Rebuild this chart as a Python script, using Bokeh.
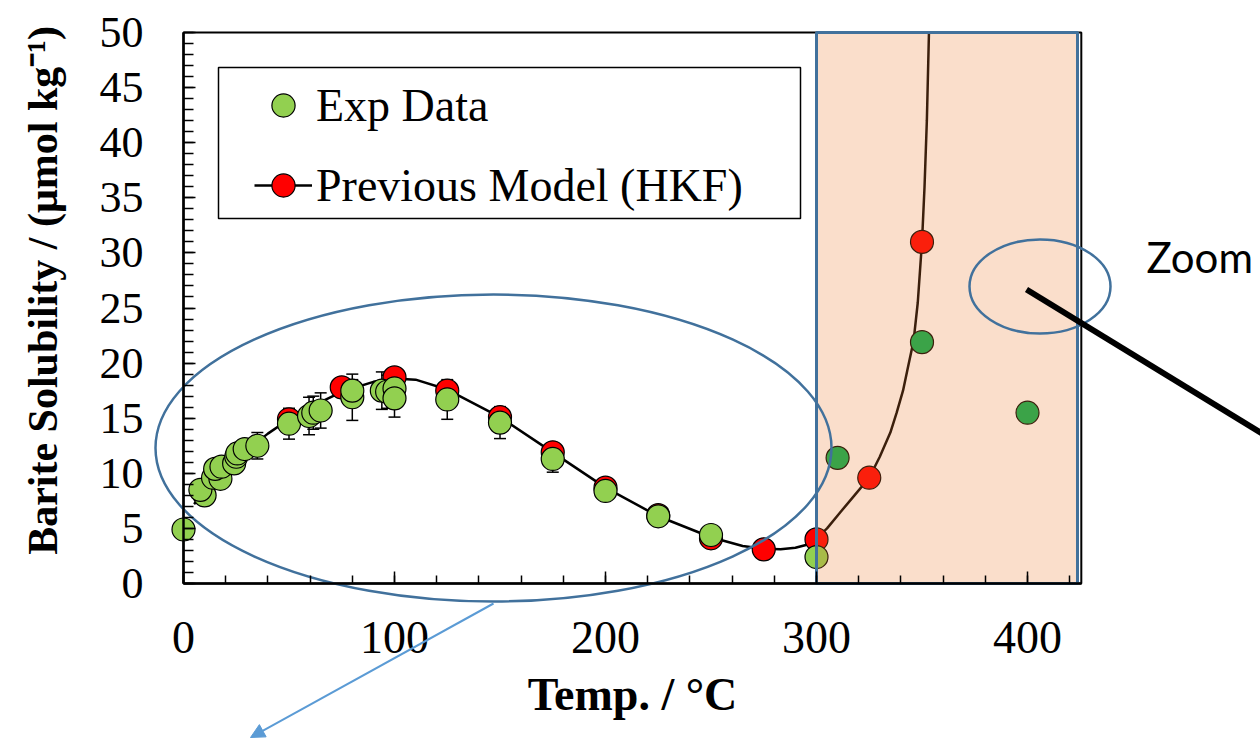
from bokeh.plotting import figure
from bokeh.models import (Range1d, LinearAxis, SingleIntervalTicker, FixedTicker, Whisker,
                          TeeHead, ColumnDataSource, Legend, LegendItem, Label, Arrow,
                          NormalHead, BoxAnnotation, Grid)
from bokeh.embed import file_html
from bokeh.resources import INLINE

# ---------------- data ----------------
exp_temp = [0, 10, 8, 14, 17.5, 15, 18, 24, 25, 25.5, 29, 35, 50, 59.5, 61.5, 65,
            80, 80, 94, 96.5, 100, 100, 125, 150, 175, 200, 225, 250, 300]
exp_sol = [4.9, 8.0, 8.5, 9.6, 9.5, 10.4, 10.6, 10.9, 11.5, 11.8, 12.2, 12.5, 14.5, 15.2, 15.5, 15.7,
           16.9, 17.5, 17.5, 17.4, 17.7, 16.8, 16.7, 14.6, 11.3, 8.4, 6.1, 4.4, 2.4]
exp_err = [0.0, 0.3, 0.3, 0.4, 0.4, 0.4, 0.4, 0.8, 0.8, 0.8, 0.8, 1.2, 1.4, 1.7, 1.5, 1.6,
           2.1, 1.0, 1.7, 1.5, 1.5, 1.7, 1.8, 1.45, 1.2, 0.4, 0.4, 0.4, 0.3]

high_temp = [310, 350, 400]
high_sol = [11.4, 21.9, 15.5]

model_temp = [50, 75, 100, 125, 150, 175, 200, 225, 250, 275, 300, 325, 350]
model_sol = [14.9, 17.8, 18.7, 17.5, 15.1, 11.9, 8.7, 6.2, 4.1, 3.1, 4.0, 9.6, 31.0]

curve_temp = [5, 10, 15, 20, 25, 30, 40, 50, 60, 75, 90, 100, 110, 125, 150, 175, 200, 225,
              250, 265, 275, 283, 290, 295, 300, 305, 311, 318, 325, 330, 335, 338, 341, 343,
              346, 348, 350, 351.2, 352.3, 353.3]
curve_sol = [7.2, 8.3, 9.4, 10.4, 11.3, 12.1, 13.6, 14.9, 16.0, 17.4, 18.3, 18.6, 18.5, 17.6,
             15.1, 11.9, 8.7, 6.1, 4.2, 3.4, 3.15, 3.1, 3.25, 3.5, 4.1, 5.0, 6.4, 8.0, 9.6,
             11.5, 13.7, 15.5, 17.5, 19.3, 22.0, 25.5, 31.0, 36.0, 42.0, 50.0]

X_MAX = 425.5
Y_MAX = 50
SHADE_LEFT, SHADE_RIGHT = 300, 423.7

# ---------------- pixel <-> data helpers for decorations ----------------
W, H = 1260, 740
X0, XS = 183, 2.11
Y0, YS = 583, 11.02


def dx(px):
    return (px - X0) / XS


def dy(py):
    return (Y0 - py) / YS


SERIF = "Liberation Serif"
BLUE = "#41719C"

p = figure(width=W, height=H, x_range=Range1d(dx(0), dx(W)), y_range=Range1d(dy(H), dy(0)),
           x_axis_location=None, y_axis_location=None, toolbar_location=None,
           output_backend="svg", min_border=0, outline_line_color=None,
           background_fill_color="white", border_fill_color="white")
for r in list(p.center):
    if isinstance(r, Grid):
        r.visible = False

# axes fixed at the data origin
xaxis = LinearAxis(fixed_location=0, bounds=(0, X_MAX),
                   ticker=SingleIntervalTicker(interval=100, num_minor_ticks=5),
                   axis_label="Temp. / °C",
                   axis_label_text_font=SERIF, axis_label_text_font_style="bold",
                   axis_label_text_font_size="46px", axis_label_standoff=13,
                   axis_label_text_color="black",
                   major_label_text_font=SERIF, major_label_text_font_size="46px",
                   major_label_text_color="black", major_label_standoff=38,
                   major_tick_in=12, major_tick_out=0, minor_tick_in=8, minor_tick_out=0,
                   axis_line_color="black", major_tick_line_color="black",
                   minor_tick_line_color="black",
                   axis_line_width=2.5, major_tick_line_width=1.5, minor_tick_line_width=1.5)
p.add_layout(xaxis, "below")

yaxis = LinearAxis(fixed_location=0, bounds=(0, Y_MAX),
                   ticker=SingleIntervalTicker(interval=5, num_minor_ticks=5),
                   major_label_text_font=SERIF, major_label_text_font_size="44px",
                   major_label_text_color="black", major_label_standoff=40,
                   major_tick_in=12, major_tick_out=0, minor_tick_in=10, minor_tick_out=0,
                   axis_line_color="black", major_tick_line_color="black",
                   minor_tick_line_color="black",
                   axis_line_width=2.5, major_tick_line_width=1.5, minor_tick_line_width=1.5)
p.add_layout(yaxis, "left")

# y-axis title carried by a tick-less axis so it can be centred like the reference
ytitle = LinearAxis(fixed_location=0, bounds=(dy(555), dy(25)), ticker=FixedTicker(ticks=[]),
                    axis_line_color=None, major_tick_line_color=None,
                    minor_tick_line_color=None, major_label_text_alpha=0,
                    axis_label="Barite Solubility / (μmol kg⁻¹)",
                    axis_label_text_font=SERIF, axis_label_text_font_style="bold",
                    axis_label_text_font_size="42px", axis_label_standoff=118,
                    axis_label_text_color="black")
p.add_layout(ytitle, "left")

# plot frame (top / right borders)
p.quad(left=[0], right=[X_MAX], bottom=[0], top=[Y_MAX], fill_alpha=0,
       line_color="black", line_width=2)

# error bars
err_src = ColumnDataSource(dict(
    base=exp_temp,
    upper=[s + e for s, e in zip(exp_sol, exp_err)],
    lower=[s - e for s, e in zip(exp_sol, exp_err)],
))
wh = Whisker(source=err_src, base="base", upper="upper", lower="lower", dimension="height",
             line_color="black", line_width=1.5,
             upper_head=TeeHead(size=12, line_color="black", line_width=1.5),
             lower_head=TeeHead(size=12, line_color="black", line_width=1.5),
             level="underlay")
p.add_layout(wh)

curve_r = p.line(curve_temp, curve_sol, line_color="black", line_width=2.5)
red_r = p.scatter(model_temp, model_sol, size=23, marker="circle", fill_color="#FF0000",
                  line_color="black", line_width=1.2)
green_r = p.scatter(exp_temp, exp_sol, size=23, marker="circle", fill_color="#92D050",
                    line_color="black", line_width=1.2)
p.scatter(high_temp, high_sol, size=23, marker="circle", fill_color="#00B050",
          line_color="black", line_width=1.2)

# shaded overlay region
p.quad(left=[SHADE_LEFT], right=[SHADE_RIGHT], bottom=[0], top=[Y_MAX],
       fill_color="#ED7D31", fill_alpha=0.25, line_color=BLUE, line_width=3)

# ellipses
p.ellipse(x=[dx(493), dx(1039.5)], y=[dy(447.5), dy(286)],
          width=[676 / XS, 141 / XS], height=[307 / YS, 94 / YS],
          fill_alpha=0, line_color=BLUE, line_width=2.5)

# thick black pointer line
p.segment(x0=[dx(1026)], y0=[dy(289)], x1=[dx(1268)], y1=[dy(437)],
          line_color="black", line_width=6)

# arrow
p.add_layout(Arrow(x_start=dx(493), y_start=dy(603), x_end=dx(250), y_end=dy(737),
                   line_color="#5B9BD5", line_width=2,
                   end=NormalHead(size=14, fill_color="#5B9BD5", line_color="#5B9BD5")))

p.add_layout(Label(x=dx(1146), y=dy(256), text="Zoom", text_font="Lato",
                   text_font_size="42px", text_baseline="middle", text_color="black"))

# legend frame
p.add_layout(BoxAnnotation(left=dx(218), right=dx(800), top=dy(67), bottom=dy(218),
                           fill_color="white", fill_alpha=1.0, line_color="black",
                           line_width=1.5, line_alpha=1.0))

legend = Legend(items=[LegendItem(label="Exp Data", renderers=[green_r]),
                       LegendItem(label="Previous Model (HKF)", renderers=[curve_r, red_r])],
                location=(245, 517), label_text_font=SERIF, label_text_font_size="46px",
                label_text_color="black",
                glyph_width=58, glyph_height=58, label_standoff=4, padding=9, spacing=22,
                border_line_alpha=0, background_fill_alpha=0, margin=0)
p.add_layout(legend, "center")

open("out.html", "w").write(file_html(p, INLINE))
